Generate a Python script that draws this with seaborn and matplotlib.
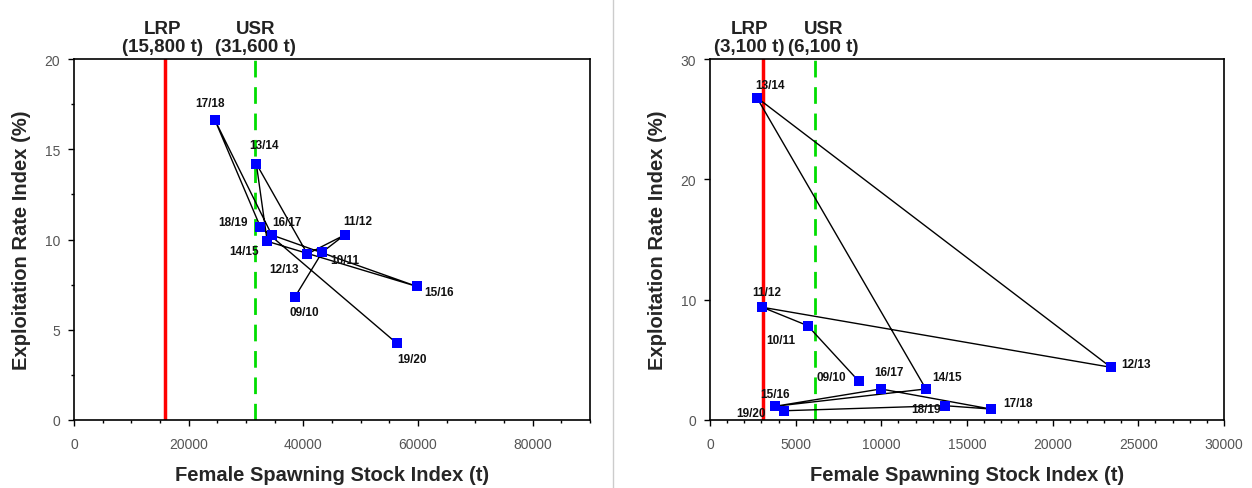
import matplotlib
matplotlib.use("Agg")
import matplotlib.pyplot as plt
import seaborn as sns
import pandas as pd
from matplotlib.ticker import MultipleLocator
from matplotlib.lines import Line2D

# Left panel data (chronological order)
seasons_a = ['09/10', '10/11', '11/12', '12/13', '13/14', '14/15',
             '15/16', '16/17', '17/18', '18/19', '19/20']
ssb_a = [38500, 43300, 47200, 40700, 31800, 33700, 59800, 34500, 24600, 32500, 56300]
er_a = [6.8, 9.3, 10.25, 9.2, 14.2, 9.9, 7.4, 10.25, 16.6, 10.7, 4.25]
lrp_a, usr_a = 15800, 31600

# Right panel data
seasons_b = ['09/10', '10/11', '11/12', '12/13', '13/14', '14/15',
             '15/16', '16/17', '17/18', '18/19', '19/20']
ssb_b = [8700, 5700, 3050, 23400, 2730, 12600, 3800, 9970, 16400, 13700, 4340]
er_b = [3.2, 7.84, 9.37, 4.38, 26.8, 2.58, 1.14, 2.58, 0.91, 1.19, 0.77]
lrp_b, usr_b = 3100, 6100

# label offsets in pixels (dx, dy), dy up positive
offs_a = [(10, -15), (23, -8), (13, 14), (-23, -15), (8, 19), (-23, -10),
          (22, -6), (15, 13), (-5, 17), (-27, 5), (15, -16)]
offs_b = [(-28, 4), (-27, -14), (4, 15), (25, 3), (13, 13), (21, 12),
          (0, 12), (8, 17), (27, 6), (-19, -3), (-33, -2)]

sns.set_style('ticks')
plt.rcParams['font.family'] = ['Liberation Sans', 'DejaVu Sans']

fig = plt.figure(figsize=(12.52, 4.89), dpi=100)
ax1 = fig.add_axes([74 / 1252, 1 - 421 / 489, 516 / 1252, 361 / 489])
ax2 = fig.add_axes([710 / 1252, 1 - 421 / 489, 514 / 1252, 361 / 489])

fig.add_artist(Line2D([613 / 1252, 613 / 1252], [0.0, 1.0], color='#cccccc', lw=1))


def draw(ax, seasons, ssb, er, offs, lrp, usr, lrp_txt, usr_txt, shifts,
         xmax, ymax, xmaj, xmin, ymaj, ymin):
    df = pd.DataFrame({'season': seasons, 'ssb': ssb, 'er': er})
    ax.axvline(lrp, color='#ff0000', lw=2.5, zorder=1)
    ax.axvline(usr, color='#00dd00', lw=2, dashes=(6, 3.5), zorder=1)
    sns.lineplot(data=df, x='ssb', y='er', sort=False, color='black', lw=1, ax=ax, zorder=2)
    sns.scatterplot(data=df, x='ssb', y='er', marker='s', color='#0000ff', s=55,
                    edgecolor='#0000ff', linewidth=0, ax=ax, zorder=3)
    for s, x, y, (dx, dy) in zip(seasons, ssb, er, offs):
        ax.annotate(s, (x, y), xytext=(dx, dy), textcoords='offset pixels',
                    ha='center', va='center', fontsize=8.5, fontweight='bold', color='#111111')
    ax.set_xlim(0, xmax)
    ax.set_ylim(0, ymax)
    ax.xaxis.set_major_locator(MultipleLocator(xmaj))
    ax.xaxis.set_minor_locator(MultipleLocator(xmin))
    ax.yaxis.set_major_locator(MultipleLocator(ymaj))
    if ymin:
        ax.yaxis.set_minor_locator(MultipleLocator(ymin))
    ax.tick_params(which='both', direction='out', colors='black', labelcolor='#555555', labelsize=10)
    ax.tick_params(which='major', length=4, width=1)
    ax.tick_params(which='minor', length=2.5, width=1)
    ax.tick_params(axis='x', pad=8)
    ax.tick_params(axis='y', pad=6)
    for sp in ax.spines.values():
        sp.set_visible(True)
        sp.set_color('black')
        sp.set_linewidth(1.2)
    ax.set_xlabel('Female Spawning Stock Index (t)', fontsize=14.5, fontweight='bold', labelpad=10)
    ax.set_ylabel('Exploitation Rate Index (%)', fontsize=14.5, fontweight='bold', labelpad=10)
    for val, txt, sh in zip([lrp, usr], [lrp_txt, usr_txt], shifts):
        ax.annotate(txt, (val, 1.0), xycoords=ax.get_xaxis_transform(),
                    xytext=(sh, 4), textcoords='offset pixels', ha='center', va='bottom',
                    fontsize=13.5, fontweight='bold', linespacing=1.1, color='#222222')


draw(ax1, seasons_a, ssb_a, er_a, offs_a, lrp_a, usr_a,
     'LRP\n(15,800 t)', 'USR\n(31,600 t)', (-2, 0), 90000, 20, 20000, 5000, 5, 2.5)
draw(ax2, seasons_b, ssb_b, er_b, offs_b, lrp_b, usr_b,
     'LRP\n(3,100 t)', 'USR\n(6,100 t)', (-14, 9), 30000, 30, 5000, 1000, 10, None)

fig.savefig('out.png', dpi=100)
